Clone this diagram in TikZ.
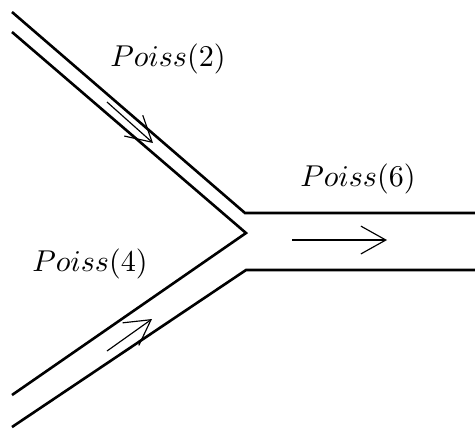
\documentclass[tikz,border=0pt]{standalone}
\usetikzlibrary{arrows.meta}
\begin{document}
\begin{tikzpicture}[x=0.345pt,y=-0.345pt,
    tubo/.style={line width=0.9pt, line join=miter},
    flujo/.style={line width=0.4pt, -{Straight Barb[length=8.6pt,width=9.6pt]}},
    etiqueta/.style={inner sep=0pt, scale=1.04}]
    \useasboundingbox (0,0) rectangle (475,430);

    % 1. Paredes de los tubos
    \draw[tubo] (12,12) -- (245,213) -- (475,213);
    \draw[tubo] (12,32) -- (246,233) -- (12,395);
    \draw[tubo] (12,427) -- (246,270) -- (475,270);

    % 2. Flechas del flujo
    \draw[flujo] (107,102) -- (153,143);
    \draw[flujo] (107,351) -- (152,319);
    \draw[flujo] (292,240) -- (387,240);

    % 3. Etiquetas
    \node[etiqueta] (p2) at (168,59) {$Poiss(2)$};
    \node[etiqueta] (p4) at (90,264) {$Poiss(4)$};
    \node[etiqueta] (p6) at (358,179) {$Poiss(6)$};
\end{tikzpicture}
\end{document}
